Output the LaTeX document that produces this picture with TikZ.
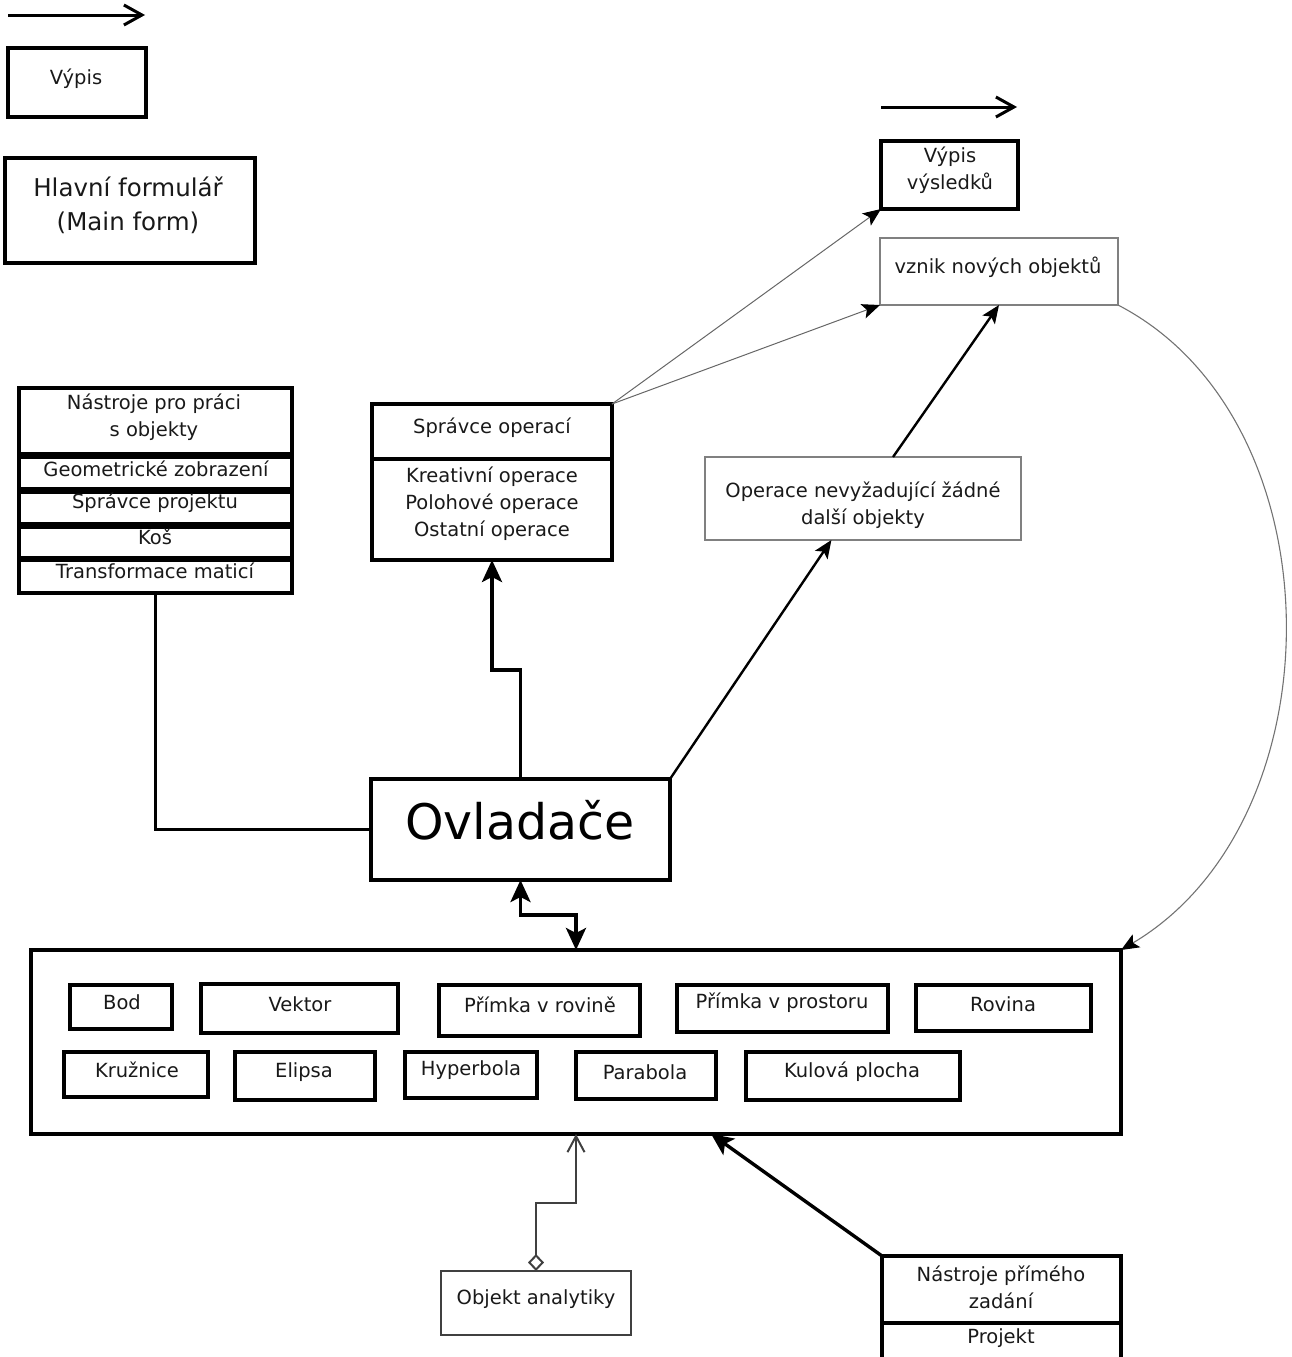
\documentclass[tikz,border=0pt]{standalone}
\usepackage{fontspec}
\setmainfont{DejaVu Sans}
\usetikzlibrary{arrows.meta,calc}
\newcommand{\mybox}[6]{\node[#1,anchor=north west,minimum width={#5-#3},minimum height={#6-#4}] (#2) at (#3,#4) {};}
\begin{document}
\begin{tikzpicture}[x=1pt,y=-1pt,
  thickbox/.style={draw=black,line width=3.2pt,inner sep=0pt,outer sep=0pt},
  thinbox/.style={draw=black!50,line width=1.2pt,inner sep=0pt,outer sep=0pt},
  midbox/.style={draw=black!75,line width=2pt,inner sep=0pt,outer sep=0pt},
  txt/.style={font=\fontsize{19.5}{27}\selectfont,align=center,inner sep=0pt,text=black!90},
  bigtxt/.style={font=\fontsize{24.5}{34}\selectfont,align=center,inner sep=0pt,text=black!90},
  hugetxt/.style={font=\fontsize{49}{55}\selectfont,align=center,inner sep=0pt,text=black},
  bigfill/.style={-{Stealth[length=22pt,width=20pt,inset=5pt,color=black]}},
  smallfill/.style={-{Stealth[length=18pt,width=15pt,inset=4pt,color=black]}},
  openhead/.style={-{Straight Barb[length=18pt,width=20pt,line width=3pt]}},
]
\useasboundingbox (0,0) rectangle (1292,1357);

% legend items
\coordinate (la1) at (8,15);
\coordinate (la2) at (145,15);
\draw[line width=3pt,openhead] (la1) -- (la2);
\mybox{thickbox}{vypis}{8}{48}{146}{117}
\node[txt] (tvypis) at (76,79) {Výpis};
\mybox{thickbox}{hlavni}{5}{158}{255}{263}
\node[bigtxt] (thlavni) at (128,205) {Hlavní formulář\\ (Main form)};

% top right
\coordinate (ra1) at (881,107);
\coordinate (ra2) at (1017,107);
\draw[line width=3pt,openhead] (ra1) -- (ra2);
\mybox{thickbox}{vv}{881}{141}{1018}{209}
\node[txt] (tvv) at (950,170) {Výpis\\výsledků};
\mybox{thinbox}{vznik}{880}{238}{1118}{305}
\node[txt] (tvznik) at (998,267) {vznik nových objektů};

% tools stack
\mybox{thickbox}{t0}{19}{388}{292}{454}
\node[txt] (tt0) at (154,417) {Nástroje pro práci\\s objekty};
\mybox{thickbox}{t1}{19}{457}{292}{489}
\node[txt] (tt1) at (156,469) {Geometrické zobrazení};
\mybox{thickbox}{t2}{19}{492}{292}{524}
\node[txt] (tt2) at (155,503) {Správce projektu};
\mybox{thickbox}{t3}{19}{527}{292}{558}
\node[txt] (tt3) at (155,537) {Koš};
\mybox{thickbox}{t4}{19}{560}{292}{593}
\node[txt] (tt4) at (155,571) {Transformace maticí};

% operations manager
\mybox{thickbox}{spr}{372}{404}{612}{459}
\node[txt] (tspr) at (492,428) {Správce operací};
\mybox{thickbox}{sprb}{372}{459}{612}{560}
\node[txt] (tsprb) at (492,504) {Kreativní operace\\Polohové operace\\Ostatní operace};

% operations without objects
\mybox{thinbox}{oper}{705}{457}{1021}{540}
\node[txt] (toper) at (863,505) {Operace nevyžadující žádné\\další objekty};

% controls
\mybox{thickbox}{ovl}{371}{779}{670}{880}
\node[hugetxt] (tovl) at (520,820) {Ovladače};

% big box with objects
\mybox{thickbox}{big}{31}{950}{1121}{1134}
\mybox{thickbox}{b1}{70}{985}{172}{1029}
\node[txt] (tb1) at (122,1002) {Bod};
\mybox{thickbox}{b2}{201}{984}{398}{1033}
\node[txt] (tb2) at (300,1004) {Vektor};
\mybox{thickbox}{b3}{439}{985}{640}{1036}
\node[txt] (tb3) at (540,1005) {Přímka v rovině};
\mybox{thickbox}{b4}{677}{985}{888}{1032}
\node[txt] (tb4) at (782,1003) {Přímka v prostoru};
\mybox{thickbox}{b5}{916}{985}{1091}{1031}
\node[txt] (tb5) at (1003,1004) {Rovina};
\mybox{thickbox}{c1}{64}{1052}{208}{1097}
\node[txt] (tc1) at (137,1070) {Kružnice};
\mybox{thickbox}{c2}{235}{1052}{375}{1100}
\node[txt] (tc2) at (304,1072) {Elipsa};
\mybox{thickbox}{c3}{405}{1052}{537}{1098}
\node[txt] (tc3) at (471,1070) {Hyperbola};
\mybox{thickbox}{c4}{576}{1052}{716}{1099}
\node[txt] (tc4) at (645,1072) {Parabola};
\mybox{thickbox}{c5}{746}{1052}{960}{1100}
\node[txt] (tc5) at (852,1072) {Kulová plocha};

% analytics object
\mybox{midbox}{obj}{441}{1271}{631}{1335}
\node[txt] (tobj) at (536,1299) {Objekt analytiky};

% direct input tools
\mybox{thickbox}{np}{882}{1256}{1121}{1323}
\node[txt] (tnp) at (1001,1287) {Nástroje přímého\\zadání};
\mybox{thickbox}{npb}{882}{1323}{1121}{1370}
\node[txt] (tnpb) at (1001,1338) {Projekt};

% connectors
\draw[line width=3pt] (t4.south) |- (ovl.west);
\draw[line width=3.4pt,bigfill] ($(ovl.north west)!0.5!(ovl.north east)$) -- ++(0,-109) -| (sprb.south);
\draw[line width=2.4pt,smallfill] (ovl.north east) -- ($(oper.south west)!0.40!(oper.south east)$);
\draw[line width=2.4pt,smallfill] ($(oper.north west)!0.595!(oper.north east)$) -- (vznik.south);
\draw[line width=1pt,draw=black!60,smallfill] (spr.north east) -- (vv.south west);
\draw[line width=1pt,draw=black!60,smallfill] (spr.north east) -- (vznik.south west);
\draw[line width=1.1pt,draw=black!55,smallfill] (vznik.south east) .. controls (1340,420) and (1340,820) .. (big.north east);
\coordinate (d2) at (576,915);
\draw[line width=3.4pt,{Stealth[length=22pt,width=20pt,inset=5pt]}-{Stealth[length=22pt,width=20pt,inset=5pt]}] (ovl.south) |- (d2) -- (d2 |- big.north);
\coordinate (g1) at (536,1203);
\coordinate (g2) at (576,1203);
\draw[line width=2pt,draw=black!75,{Diamond[open,length=17pt,width=16pt,line width=2pt]}-{Straight Barb[length=16pt,width=17pt,line width=2pt]}] (obj.north) -- (g1) -- (g2) -- (g2 |- big.south);
\draw[line width=3.4pt,bigfill] (np.north west) -- ($(big.south west)!0.624!(big.south east)$);
\end{tikzpicture}
\end{document}
